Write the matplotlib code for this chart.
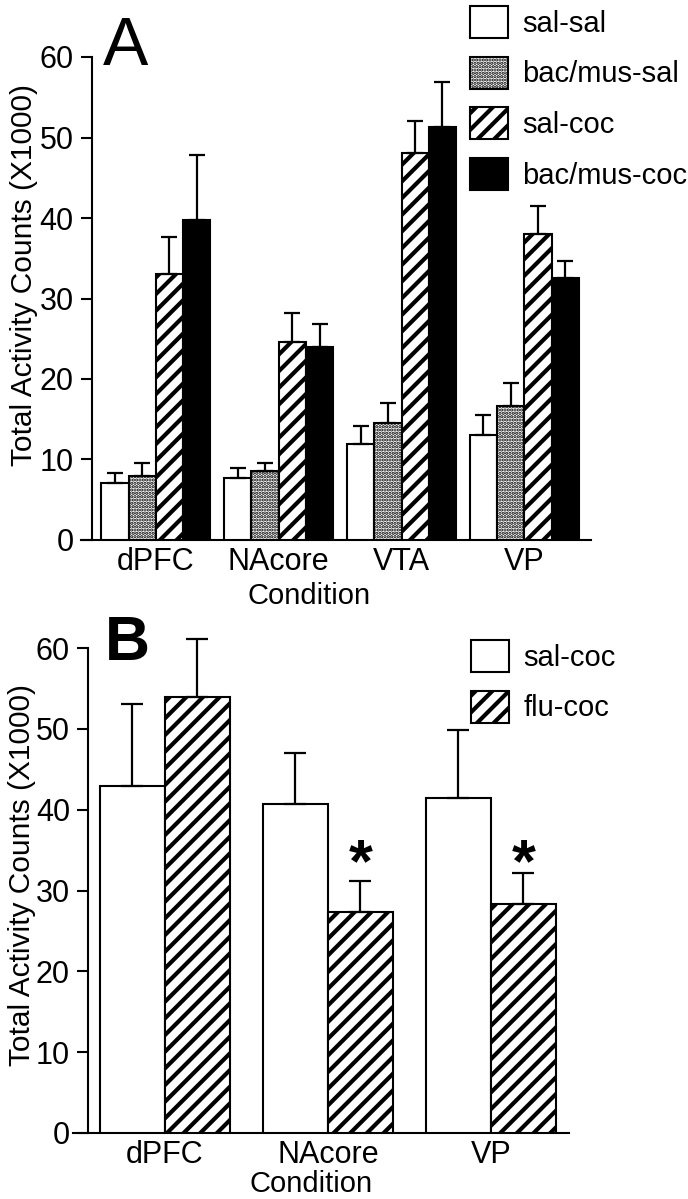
import matplotlib
matplotlib.use("Agg")
import matplotlib.pyplot as plt

plt.rcParams['font.family'] = ['Liberation Sans', 'DejaVu Sans']

# panel A data (x1000 counts), mean and upward SEM
regions_a = ['dPFC', 'NAcore', 'VTA', 'VP']
groups_a = ['sal-sal', 'bac/mus-sal', 'sal-coc', 'bac/mus-coc']
sal_sal = [7.1, 7.7, 11.9, 13.0]
sal_sal_sem = [1.2, 1.2, 2.2, 2.5]
bacmus_sal = [7.9, 8.6, 14.5, 16.6]
bacmus_sal_sem = [1.7, 1.0, 2.5, 2.9]
sal_coc = [33.0, 24.6, 48.1, 38.0]
sal_coc_sem = [4.7, 3.6, 3.9, 3.5]
bacmus_coc = [39.8, 24.0, 51.3, 32.5]
bacmus_coc_sem = [8.0, 2.8, 5.6, 2.2]

# panel B data
regions_b = ['dPFC', 'NAcore', 'VP']
groups_b = ['sal-coc', 'flu-coc']
salcoc_b = [42.9, 40.7, 41.5]
salcoc_b_sem = [10.2, 6.3, 8.3]
flucoc_b = [54.0, 27.3, 28.3]
flucoc_b_sem = [7.1, 3.9, 3.9]
signif_b = [False, True, True]

W, H = 688, 1199
fig = plt.figure(figsize=(W / 100, H / 100), dpi=100)


def fx(px):
    return px / W


def fy(py):
    return 1 - py / H


def set_hlw(patches, hlw):
    for p in patches:
        if hasattr(p, 'set_hatch_linewidth'):
            p.set_hatch_linewidth(hlw)


def draw_bars(ax, xs, vals, sems, face, hatch, hlw, label, cap):
    b = ax.bar(xs, vals, 1.0, yerr=[[0] * len(vals), sems], color=face,
               edgecolor='black', linewidth=1.5, hatch=hatch, label=label,
               error_kw=dict(ecolor='black', elinewidth=1.6, capsize=cap,
                             capthick=1.6), zorder=3)
    set_hlw(b.patches, hlw)
    data_line, caplines, barcols = b.errorbar.lines
    for art in list(caplines) + list(barcols):
        art.set_clip_on(False)
    return b


def style_axes(ax, xmin, xmax, yaxis_x):
    ax.set_xlim(xmin, xmax)
    ax.set_ylim(0, 60)
    ax.spines['top'].set_visible(False)
    ax.spines['right'].set_visible(False)
    ax.spines['left'].set_position(('data', yaxis_x))
    ax.spines['left'].set_bounds(0, 60)
    ax.spines['left'].set_linewidth(1.5)
    ax.spines['bottom'].set_linewidth(1.5)
    ax.set_yticks(range(0, 61, 10))
    ax.tick_params(axis='y', direction='out', length=8, width=1.5,
                   labelsize=22, pad=5)
    ax.tick_params(axis='x', length=0, labelsize=22, pad=5)
    ax.patch.set_visible(False)


def add_legend(ax, x, y, styles):
    leg = ax.legend(loc='upper left', bbox_to_anchor=(fx(x), fy(y)),
                    bbox_transform=fig.transFigure, frameon=False,
                    borderpad=0, borderaxespad=0, fontsize=21,
                    handlelength=1.3, handleheight=1.3, labelspacing=0.65,
                    handletextpad=0.5)
    for h, st in zip(leg.legend_handles, styles):
        set_hlw([h], st[4])
    return leg


# ---- panel A ----
axA = fig.add_axes([fx(81), fy(540), fx(591) - fx(81), fy(57) - fy(540)])
centers_a = [i * 4.5 for i in range(len(regions_a))]
series_a = [(sal_sal, sal_sal_sem, 'white', None, 1.5),
            (bacmus_sal, bacmus_sal_sem, 'white', '.....', 1.6),
            (sal_coc, sal_coc_sem, 'white', '//', 3.0),
            (bacmus_coc, bacmus_coc_sem, 'black', None, 1.5)]
for j, (vals, sems, face, hatch, hlw) in enumerate(series_a):
    xs = [c + (j - 1.5) for c in centers_a]
    draw_bars(axA, xs, vals, sems, face, hatch, hlw, groups_a[j], 5.8)
style_axes(axA, -2.74, 15.94, -2.34)
axA.set_xticks(centers_a)
axA.set_xticklabels(regions_a)
add_legend(axA, 470, 6, series_a)

fig.text(fx(103), fy(65), 'A', fontsize=49, ha='left', va='baseline')
fig.text(fx(309), fy(604), 'Condition', fontsize=21, ha='center', va='baseline')
fig.text(fx(24), fy(275), 'Total Activity Counts (X1000)', fontsize=21.5,
         rotation=90, ha='center', va='center')

# ---- panel B ----
axB = fig.add_axes([fx(73), fy(1133), fx(569) - fx(73), fy(648) - fy(1133)])
centers_b = [i * 2.5 for i in range(len(regions_b))]
series_b = [(salcoc_b, salcoc_b_sem, 'white', None, 1.5),
            (flucoc_b, flucoc_b_sem, 'white', '//', 3.0)]
for j, (vals, sems, face, hatch, hlw) in enumerate(series_b):
    xs = [c + (j - 0.5) for c in centers_b]
    draw_bars(axB, xs, vals, sems, face, hatch, hlw, groups_b[j], 7.6)
style_axes(axB, -1.41, 6.2, -1.18)
axB.set_xticks(centers_b)
axB.set_xticklabels(regions_b)
star_y = max(v + s for v, s, sig in zip(flucoc_b, flucoc_b_sem, signif_b) if sig) - 1.1
for c, sig in zip(centers_b, signif_b):
    if sig:
        axB.text(c + 0.5, star_y, '*', fontsize=44, fontweight='bold',
                 ha='center', va='baseline')
add_legend(axB, 471, 640, series_b)

fig.text(fx(105), fy(660), 'B', fontsize=45, fontweight='bold', ha='left',
         va='baseline')
fig.text(fx(311), fy(1192), 'Condition', fontsize=21, ha='center', va='baseline')
fig.text(fx(22), fy(875), 'Total Activity Counts (X1000)', fontsize=21.5,
         rotation=90, ha='center', va='center')

fig.savefig('out.png', dpi=100)
